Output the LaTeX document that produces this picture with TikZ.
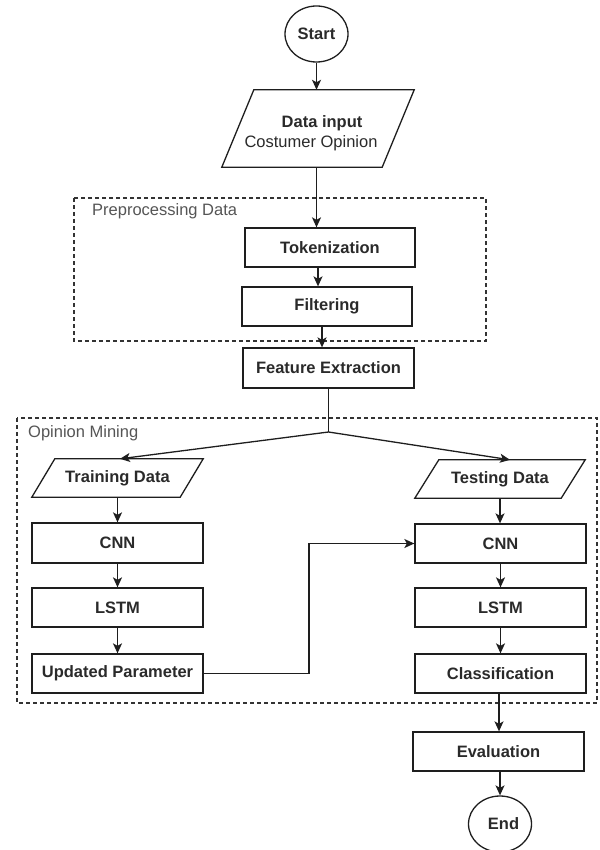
\documentclass[tikz,border=0pt]{standalone}
\usepackage{fontspec}
\setmainfont{Liberation Sans}
\usetikzlibrary{arrows.meta,calc,shapes.geometric}
\definecolor{linec}{HTML}{1E1E1E}
\definecolor{txt}{HTML}{2A2A2A}
\definecolor{grp}{HTML}{555555}
\definecolor{dashc}{HTML}{333333}
\begin{document}
\begin{tikzpicture}[x=1pt,y=-1pt,
  lbl/.style={font=\fontsize{16.5}{20}\selectfont\bfseries, text=txt},
  box/.style={lbl, draw=linec, line width=1.3pt, minimum width=171pt, minimum height=39pt, inner sep=0pt},
  paraholder/.style={lbl, inner sep=0pt, align=center},
  outl/.style={draw=linec, line width=1.3pt, line join=miter},
  term/.style={lbl, ellipse, draw=linec, line width=1.3pt, minimum width=63pt, minimum height=56pt, inner sep=0pt},
  conn/.style={draw=linec, line width=1.3pt, -{Stealth[length=10pt,width=9pt,inset=2.5pt]}},
  plain/.style={draw=linec, line width=1.3pt},
  group/.style={draw=dashc, line width=1.2pt, dash pattern=on 4pt off 3pt},
  grouplbl/.style={font=\fontsize{16.5}{20}\selectfont, text=grp, anchor=west, inner sep=0pt}
]
\useasboundingbox (0,0) rectangle (599,850);

% groups
\draw[group] (74,198) rectangle (486,341);
\node[grouplbl] (gpre) at (92,211) {Preprocessing Data};
\draw[group] (17,418) rectangle (597,703);
\node[grouplbl] (gopi) at (28,433) {Opinion Mining};

% start
\node[term] (start) at (316.5,34) {Start};

% data input parallelogram
\node[paraholder, minimum width=192pt, minimum height=77pt] (data) at (318,128.5) {};
\draw[outl] ($(data.north west)+(32,0)$) -- (data.north east) -- ($(data.south east)-(32,0)$) -- (data.south west) -- cycle;
\node[lbl, inner sep=0pt] (datat1) at (322,123) {Data input};
\node[font=\fontsize{16.5}{20}\selectfont, text=txt, inner sep=0pt] (datat2) at (311,143) {Costumer Opinion};

% preprocessing
\node[box, minimum width=170pt] (tok) at (330,247.5) {Tokenization};
\node[box, minimum width=170pt] (filt) at (327,306.5) {Filtering};
\node[box, minimum width=171pt, minimum height=40pt] (feat) at (328.5,368) {Feature Extraction};

% branch point
\coordinate (junc) at (328.5,432);

% training data
\node[paraholder, minimum width=171pt, minimum height=38pt] (train) at (117.5,478) {Training Data};
\draw[outl] ($(train.north west)+(23,0)$) -- (train.north east) -- ($(train.south east)-(23,0)$) -- (train.south west) -- cycle;

% testing data
\node[paraholder, minimum width=170pt, minimum height=38pt] (test) at (500,479) {Testing Data};
\draw[outl] ($(test.north west)+(24,0)$) -- (test.north east) -- ($(test.south east)-(24,0)$) -- (test.south west) -- cycle;

% left column
\node[box, minimum height=40pt] (lcnn) at (117.5,543) {CNN};
\node[box] (llstm) at (117.5,607.5) {LSTM};
\node[box] (upd) at (117.5,673.5) {Updated Parameter};

% right column
\node[box] (rcnn) at (500.5,543.5) {CNN};
\node[box] (rlstm) at (500.5,607.5) {LSTM};
\node[box] (cls) at (500.5,673.5) {Classification};

% evaluation and end
\node[box] (eval) at (498.5,751.5) {Evaluation};
\node[term] (end) at (500,824) {\hspace*{7pt}End};

\coordinate (bend) at (309,0);

% connectors
\draw[conn] (start.south) -- (start.south |- data.north);
\draw[conn] (data.south -| start.south) -- (start.south |- tok.north);
\draw[conn] ([xshift=-12pt]tok.south) -- ([xshift=-12pt]tok.south |- filt.north);
\draw[conn] ([xshift=-5pt]filt.south) -- ([xshift=-5pt]filt.south |- feat.north);
\draw[plain] (feat.south) -- (junc);
\draw[conn] (junc) -- ([xshift=2.5pt]train.north);
\draw[conn] (junc) -- ([xshift=10pt]test.north);
\draw[conn] (train.south) -- (train.south |- lcnn.north);
\draw[conn] (lcnn.south) -- (llstm.north);
\draw[conn] (llstm.south) -- (upd.north);
\draw[conn] (test.south) -- (test.south |- rcnn.north);
\draw[conn] (rcnn.south) -- (rlstm.north);
\draw[conn] (rlstm.south) -- (cls.north);
\draw[conn] (upd.east) -- (upd.east -| bend) |- (rcnn.west);
\draw[conn] ([xshift=-1.5pt]cls.south) -- ([xshift=-1.5pt]cls.south |- eval.north);
\draw[conn] ([xshift=1.5pt]eval.south) -- ([xshift=1.5pt]eval.south |- end.north);
\end{tikzpicture}
\end{document}
